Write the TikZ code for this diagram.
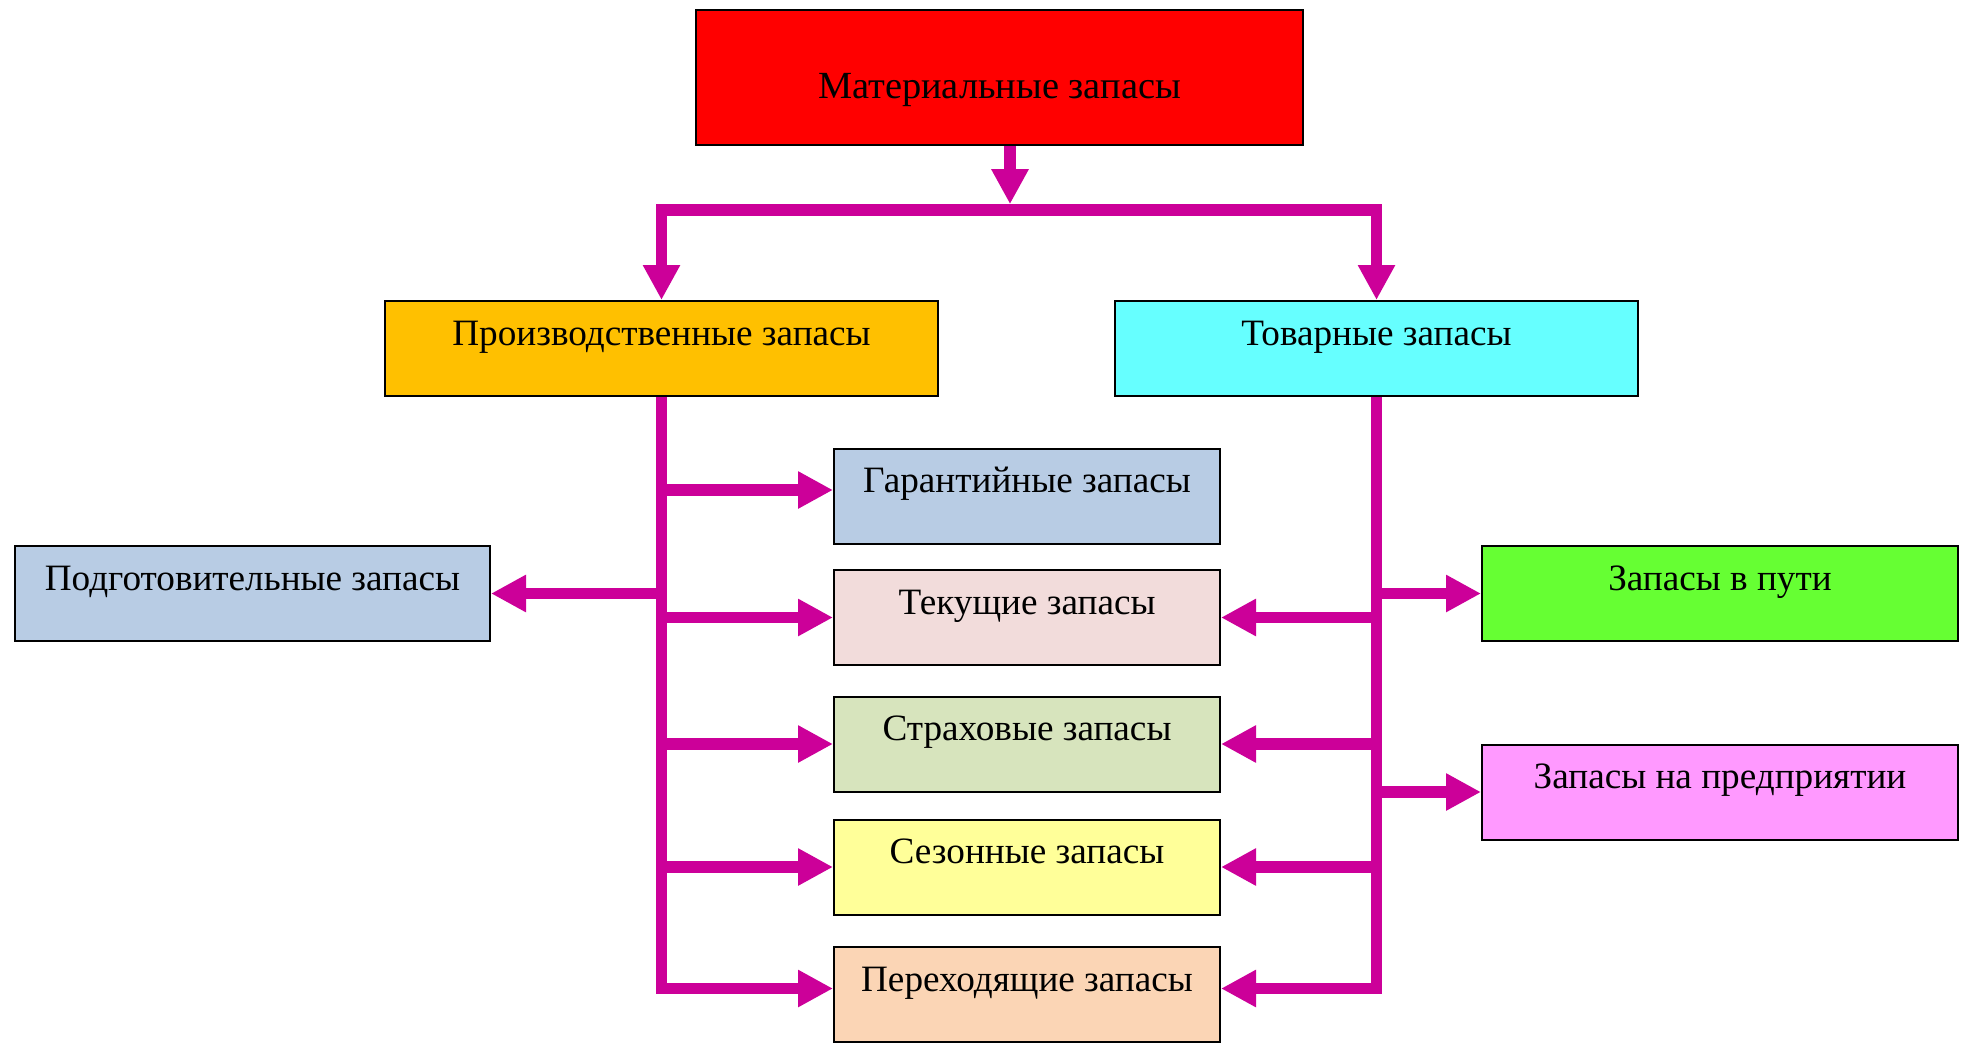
\documentclass[tikz,border=0pt]{standalone}
\usepackage{fontspec}
\setmainfont{Liberation Serif}
\usetikzlibrary{arrows.meta}
\definecolor{link}{HTML}{CC0099}
\definecolor{cRed}{HTML}{FF0000}
\definecolor{cOrange}{HTML}{FFC000}
\definecolor{cCyan}{HTML}{66FFFF}
\definecolor{cBlue}{HTML}{B8CCE4}
\definecolor{cRose}{HTML}{F2DCDB}
\definecolor{cOlive}{HTML}{D7E4BD}
\definecolor{cYellow}{HTML}{FFFF99}
\definecolor{cPeach}{HTML}{FBD5B5}
\definecolor{cGreen}{HTML}{66FF33}
\definecolor{cPink}{HTML}{FF99FF}
\begin{document}
\begin{tikzpicture}[x=0.5pt,y=-0.5pt,
  box/.style={draw=black, line width=1pt, inner sep=0pt,
    text height=22pt, text depth=25.5pt, minimum height=47.5pt,
    font=\fontsize{18.6}{21}\selectfont},
  wide/.style={minimum width=193pt},
  conn/.style={draw=link, line width=5.75pt, line join=miter,
    -{Triangle[length=17.5pt,width=17.5pt]}},
]
\useasboundingbox[fill=white] (0,0) rectangle (1964,1044);

% boxes
\node[box, fill=cRed, minimum width=303.5pt, minimum height=67.5pt,
  text height=44pt, text depth=23.5pt, font=\fontsize{19.2}{21}\selectfont]
  (top) at (999.5,77.5) {Материальные запасы};
\node[box, fill=cOrange, minimum width=276.5pt] (prod) at (661.5,348.5) {Производственные запасы};
\node[box, fill=cCyan, minimum width=261.5pt] (tov) at (1376.5,348.5) {Товарные запасы};
\node[box, wide, fill=cBlue] (gar) at (1027,496) {Гарантийные запасы};
\node[box, fill=cBlue, minimum width=237.5pt] (podg) at (252.5,593.5) {Подготовительные запасы};
\node[box, wide, fill=cRose] (tek) at (1027,617.5) {Текущие запасы};
\node[box, fill=cGreen, minimum width=238pt] (vput) at (1720,593.5) {Запасы в пути};
\node[box, wide, fill=cOlive] (strah) at (1027,744) {Страховые запасы};
\node[box, fill=cPink, minimum width=238pt] (pred) at (1720,792) {Запасы на предприятии};
\node[box, wide, fill=cYellow] (sez) at (1027,867) {Сезонные запасы};
\node[box, wide, fill=cPeach] (perekh) at (1027,994.5) {Переходящие запасы};

% top split
\coordinate (split) at (1010,210);
\draw[conn, shorten >=2.9pt] (top.south -| split) -- (split);
\draw[conn] (split) -| (prod.north);
\draw[conn] (split) -| (tov.north);

% production branch
\draw[conn] (prod.south) |- ([yshift=3pt]perekh.west);
\draw[conn] (prod.south |- gar.west) ++(0,-6) -- ([yshift=3pt]gar.west);
\draw[conn] (prod.south |- podg.east) -- (podg.east);
\draw[conn] (prod.south |- tek.west) -- (tek.west);
\draw[conn] (prod.south |- strah.west) -- (strah.west);
\draw[conn] (prod.south |- sez.west) -- (sez.west);

% goods branch
\draw[conn] (tov.south) |- ([yshift=3pt]perekh.east);
\draw[conn] (tov.south |- vput.west) -- (vput.west);
\draw[conn] (tov.south |- tek.east) -- (tek.east);
\draw[conn] (tov.south |- strah.east) -- (strah.east);
\draw[conn] (tov.south |- pred.west) -- (pred.west);
\draw[conn] (tov.south |- sez.east) -- (sez.east);
\end{tikzpicture}
\end{document}
